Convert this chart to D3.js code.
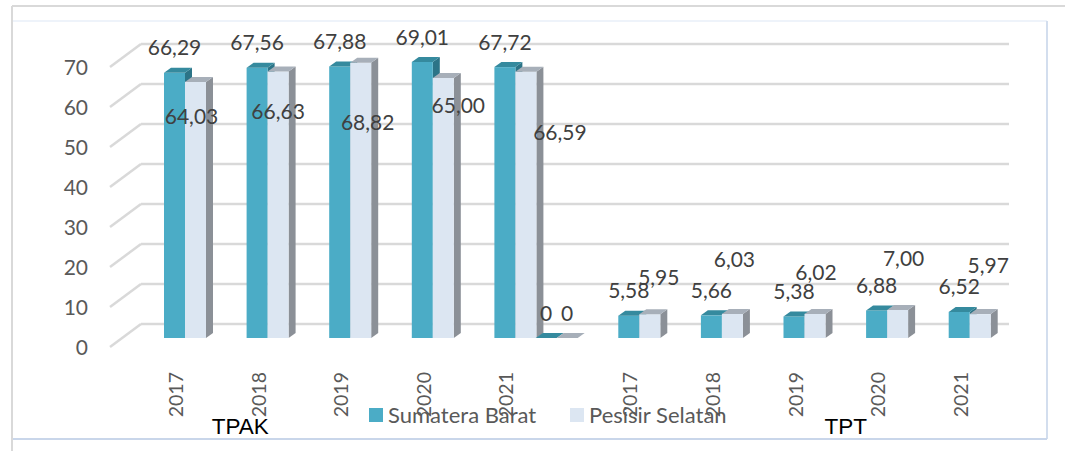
<!DOCTYPE html>
<meta charset="utf-8">
<html>
<head>
<script src="https://d3js.org/d3.v7.min.js"></script>
<style>
  body { margin: 0; background: white; }
  text { font-family: Lato, "Open Sans", sans-serif; }
</style>
</head>
<body>
<svg id="chart"></svg>
<script>
// data
var years    = ["2017","2018","2019","2020","2021","","2017","2018","2019","2020","2021"];
var groups   = ["TPAK","TPAK","TPAK","TPAK","TPAK","","TPT","TPT","TPT","TPT","TPT"];
var sumatera = [66.29, 67.56, 67.88, 69.01, 67.72, 0, 5.58, 5.66, 5.38, 6.88, 6.52];
var pesisir  = [64.03, 66.63, 68.82, 65.00, 66.59, 0, 5.95, 6.03, 6.02, 7.00, 5.97];
var seriesNames = ["Sumatera Barat", "Pesisir Selatan"];
var yTicks = [0, 10, 20, 30, 40, 50, 60, 70];

// hand-dragged label offsets for the Pesisir Selatan labels (dx, dy from bar top)
var pesisirShift = [[-4,35],[0,40],[7,60],[15,27],[34,61],[0,-25],[9,-37],[2,-54],[1,-41],[6,-52],[8,-49]];

var W = 1065, H = 451;
var svg = d3.select("#chart").attr("width", W).attr("height", H);

// frame
svg.append("line").attr("x1", 12).attr("y1", 6).attr("x2", W).attr("y2", 6)
   .style("stroke", "#d9d9d9").style("stroke-width", 2);
svg.append("line").attr("x1", 12).attr("y1", 6).attr("x2", 12).attr("y2", H)
   .style("stroke", "#d9d9d9").style("stroke-width", 2);
svg.append("line").attr("x1", 13).attr("y1", 21).attr("x2", 1047).attr("y2", 21)
   .style("stroke", "#eef3fa").style("stroke-width", 2);
svg.append("line").attr("x1", 1047).attr("y1", 21).attr("x2", 1047).attr("y2", 439)
   .style("stroke", "#d3deee").style("stroke-width", 2);
svg.append("line").attr("x1", 13).attr("y1", 439).attr("x2", 1047).attr("y2", 439)
   .style("stroke", "#c9d6ea").style("stroke-width", 2);

// scales
var y = d3.scaleLinear().domain([0, 70]).range([338, 58]);   // bar plane
var backDy = -14, frontDy = 9, wallLeft = 141, wallRight = 1009, sideDx = -31;
// slot: the empty category is only half a step wide
function slot(i) { return i >= 5 ? i - 0.5 : i; }
var x = d3.scaleLinear().domain([0, 9.5]).range([185, 969.7]);
var bw = 21, dx = 7, dz = -5;

// gridlines: back wall + side wall
var grid = svg.append("g");
yTicks.forEach(function(v) {
  var yb = y(v) + backDy, yf = y(v) + frontDy;
  grid.append("line").attr("x1", wallLeft).attr("x2", wallRight).attr("y1", yb).attr("y2", yb)
    .style("stroke", "#d9d9d9").style("stroke-width", 2.5);
  grid.append("line").attr("x1", wallLeft + sideDx).attr("y1", yf).attr("x2", wallLeft).attr("y2", yb)
    .style("stroke", "#d9d9d9").style("stroke-width", 2.5);
  svg.append("text").attr("x", 88).attr("y", yf).attr("dy", "0.36em")
    .attr("text-anchor", "end").style("font-size", "21px").style("fill", "#595959")
    .text(v);
});

var styles = [
  { front: "#4bacc6", top: "#358a9e", side: "#2c7487" },
  { front: "#dce6f2", top: "#a7afb9", side: "#8b9097" }
];

function drawBar(x0, v, st) {
  var yt = y(v), yb = y(0);
  var g = svg.append("g");
  g.append("polygon").attr("points", [[x0+bw, yt],[x0+bw+dx, yt+dz],[x0+bw+dx, yb+dz],[x0+bw, yb]].join(" "))
    .style("fill", st.side);
  g.append("rect").attr("x", x0).attr("y", yt).attr("width", bw).attr("height", yb - yt)
    .style("fill", st.front);
  g.append("polygon").attr("points", [[x0, yt],[x0+dx, yt+dz],[x0+bw+dx, yt+dz],[x0+bw, yt]].join(" "))
    .style("fill", st.top);
}

var fmt = function(v) { return v === 0 ? "0" : d3.format(".2f")(v).replace(".", ","); };

years.forEach(function(yr, i) {
  var c = x(slot(i));
  drawBar(c - bw, sumatera[i], styles[0]);
  drawBar(c, pesisir[i], styles[1]);
});

// data labels
years.forEach(function(yr, i) {
  var c = x(slot(i));
  svg.append("text").attr("x", c - bw / 2).attr("y", y(sumatera[i]) - 25).attr("dy", "0.36em")
    .attr("text-anchor", "middle").style("font-size", "21px").style("fill", "#404040")
    .text(fmt(sumatera[i]));
  svg.append("text").attr("x", c + bw / 2 + pesisirShift[i][0]).attr("y", y(pesisir[i]) + pesisirShift[i][1])
    .attr("dy", "0.36em").attr("text-anchor", "middle").style("font-size", "21px").style("fill", "#404040")
    .text(fmt(pesisir[i]));
});

// legend
var legend = svg.append("g");
[369, 570].forEach(function(lx, k) {
  legend.append("rect").attr("x", lx).attr("y", 408).attr("width", 14).attr("height", 14)
    .style("fill", styles[k].front);
  legend.append("text").attr("x", lx + 19).attr("y", 415).attr("dy", "0.36em")
    .style("font-size", "22px").style("fill", "#595959").text(seriesNames[k]);
});

// category labels (rotated)
years.forEach(function(yr, i) {
  if (!yr) return;
  var c = x(slot(i));
  svg.append("text").attr("transform", "translate(" + (c - 2) + ",372)rotate(-90)")
    .attr("text-anchor", "end").style("font-size", "19.5px").style("fill", "#595959")
    .text(yr);
});

// group labels
[["TPAK", 0.67], ["TPT", 8.0]].forEach(function(d) {
  svg.append("text").attr("x", x(d[1])).attr("y", 434).attr("text-anchor", "middle")
    .style("font-family", "'Liberation Sans', Arial, sans-serif").style("font-size", "22.5px")
    .style("fill", "#000").text(d[0]);
});
</script>
</body>
</html>
